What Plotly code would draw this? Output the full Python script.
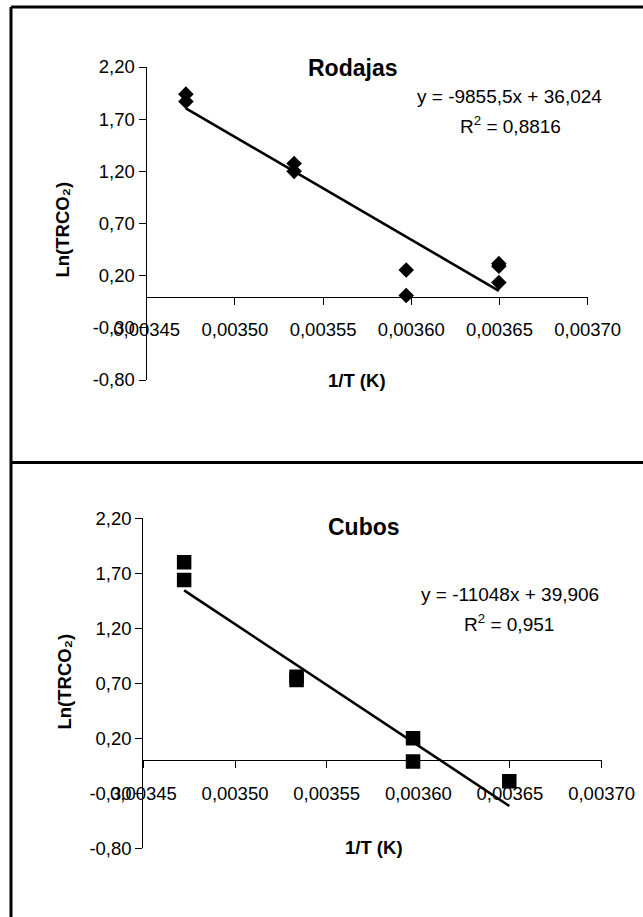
import plotly.graph_objects as go

# ---------------- data ----------------
temps_rodajas = [288, 288, 283, 283, 278, 278, 274, 274, 274]          # K
ln_trco2_rodajas = [1.94, 1.87, 1.275, 1.20, 0.255, 0.01, 0.315, 0.29, 0.135]
slope_rodajas, intercept_rodajas = -9855.5, 36.024
eq_rodajas = "y = -9855,5x + 36,024"
r2_rodajas = "R<sup>2</sup> = 0,8816"

temps_cubos = [288, 288, 283, 283, 278, 278, 274]
ln_trco2_cubos = [1.80, 1.64, 0.76, 0.73, 0.20, -0.01, -0.19]
slope_cubos, intercept_cubos = -11048, 39.906
eq_cubos = "y = -11048x + 39,906"
r2_cubos = "R<sup>2</sup> = 0,951"

x_range = [0.00345, 0.00370]
x_tick_vals = [0.00345, 0.00350, 0.00355, 0.00360, 0.00365, 0.00370]
x_tick_text = ["0,00345", "0,00350", "0,00355", "0,00360", "0,00365", "0,00370"]
y_range = [-0.80, 2.20]
y_tick_vals = [-0.80, -0.30, 0.20, 0.70, 1.20, 1.70, 2.20]
y_tick_text = ["-0,80", "-0,30", "0,20", "0,70", "1,20", "1,70", "2,20"]

titles = ["Rodajas", "Cubos"]
x_title = "1/T (K)"
y_title = "Ln(TRCO₂)"

# ---------------- layout helpers ----------------
W, H = 643, 917
FONT = "Liberation Sans, Arial, sans-serif"


def px(p):
    return p / W


def py(p):
    return 1 - p / H


panels = [
    dict(xdom=[px(146.7), px(587.7)], ydom=[py(380), py(67)]),
    dict(xdom=[px(143.4), px(601.6)], ydom=[py(848.3), py(518.3)]),
]

fig = go.Figure()

datasets = [
    (temps_rodajas, ln_trco2_rodajas, slope_rodajas, intercept_rodajas, "diamond", 12),
    (temps_cubos, ln_trco2_cubos, slope_cubos, intercept_cubos, "square", 14.5),
]

for i, (temps, lny, m, b, sym, msize) in enumerate(datasets):
    xa = "x" if i == 0 else "x2"
    ya = "y" if i == 0 else "y2"
    inv_t = [1.0 / t for t in temps]
    fig.add_trace(go.Scatter(
        x=inv_t, y=lny, mode="markers", xaxis=xa, yaxis=ya,
        marker=dict(symbol=sym, size=msize, color="black", line=dict(width=0)),
        showlegend=False, hoverinfo="x+y"))
    xf = [min(inv_t), max(inv_t)]
    fig.add_trace(go.Scatter(
        x=xf, y=[m * v + b for v in xf], mode="lines", xaxis=xa, yaxis=ya,
        line=dict(color="black", width=2.6), showlegend=False, hoverinfo="skip"))

axis_font = dict(family=FONT, size=18.5, color="black")
layout_axes = {}
for i, p in enumerate(panels):
    suf = "" if i == 0 else "2"
    yd = p["ydom"]
    zero_pos = yd[0] + (0 - y_range[0]) / (y_range[1] - y_range[0]) * (yd[1] - yd[0])
    layout_axes["xaxis" + suf] = dict(
        domain=p["xdom"], range=x_range, anchor="free", position=zero_pos,
        tickmode="array", tickvals=x_tick_vals, ticktext=x_tick_text,
        showline=True, linecolor="black", linewidth=1.3,
        ticks="outside", ticklen=7, tickwidth=1.3, tickcolor="black",
        showgrid=False, zeroline=False, tickfont=axis_font,
        ticklabelstandoff=9, automargin=False, fixedrange=True)
    layout_axes["yaxis" + suf] = dict(
        domain=yd, range=y_range, anchor="x" + suf,
        tickmode="array", tickvals=y_tick_vals, ticktext=y_tick_text,
        showline=True, linecolor="black", linewidth=1.3,
        ticks="outside", ticklen=7, tickwidth=1.3, tickcolor="black",
        showgrid=False, zeroline=False, tickfont=axis_font,
        automargin=False, fixedrange=True)

ann = []
title_pos = [(352, 68), (364, 527)]
xt_pos = [(356.5, 380), (374, 847)]
yt_pos = [(61.5, 230), (63.5, 682)]
eq_pos = [((509, 97), (510, 125)), ((510, 594), (509, 623))]
eqs = [(eq_rodajas, r2_rodajas), (eq_cubos, r2_cubos)]


def add_ann(text, pos, size, angle=0):
    ann.append(dict(text=text, x=px(pos[0]), y=py(pos[1]), xref="paper", yref="paper",
                    xanchor="center", yanchor="middle", showarrow=False, textangle=angle,
                    font=dict(family=FONT, size=size, color="black")))


for i in range(2):
    add_ann("<b>%s</b>" % titles[i], title_pos[i], 23)
    add_ann("<b>%s</b>" % x_title, xt_pos[i], 18.5)
    add_ann("<b>%s</b>" % y_title, yt_pos[i], 18.5, -90)
    for txt, pos in zip(eqs[i], eq_pos[i]):
        add_ann(txt, pos, 19)

lw = 3
shapes = [
    dict(type="line", xref="paper", yref="paper", x0=px(11), x1=px(11), y0=py(7), y1=0,
         line=dict(color="black", width=lw)),
    dict(type="line", xref="paper", yref="paper", x0=px(11), x1=1.0, y0=py(7), y1=py(7),
         line=dict(color="black", width=lw)),
    dict(type="line", xref="paper", yref="paper", x0=px(11), x1=1.0, y0=py(462.5), y1=py(462.5),
         line=dict(color="black", width=lw)),
]

fig.update_layout(
    template="none",
    width=W, height=H, margin=dict(l=0, r=0, t=0, b=0, pad=0), autosize=False,
    paper_bgcolor="white", plot_bgcolor="white",
    font=dict(family=FONT, color="black"),
    annotations=ann, shapes=shapes, **layout_axes)

fig.write_html(
    "out.html",
    config={"displayModeBar": False},
    post_script="document.body.style.margin='0px';document.body.style.overflow='hidden';",
)
